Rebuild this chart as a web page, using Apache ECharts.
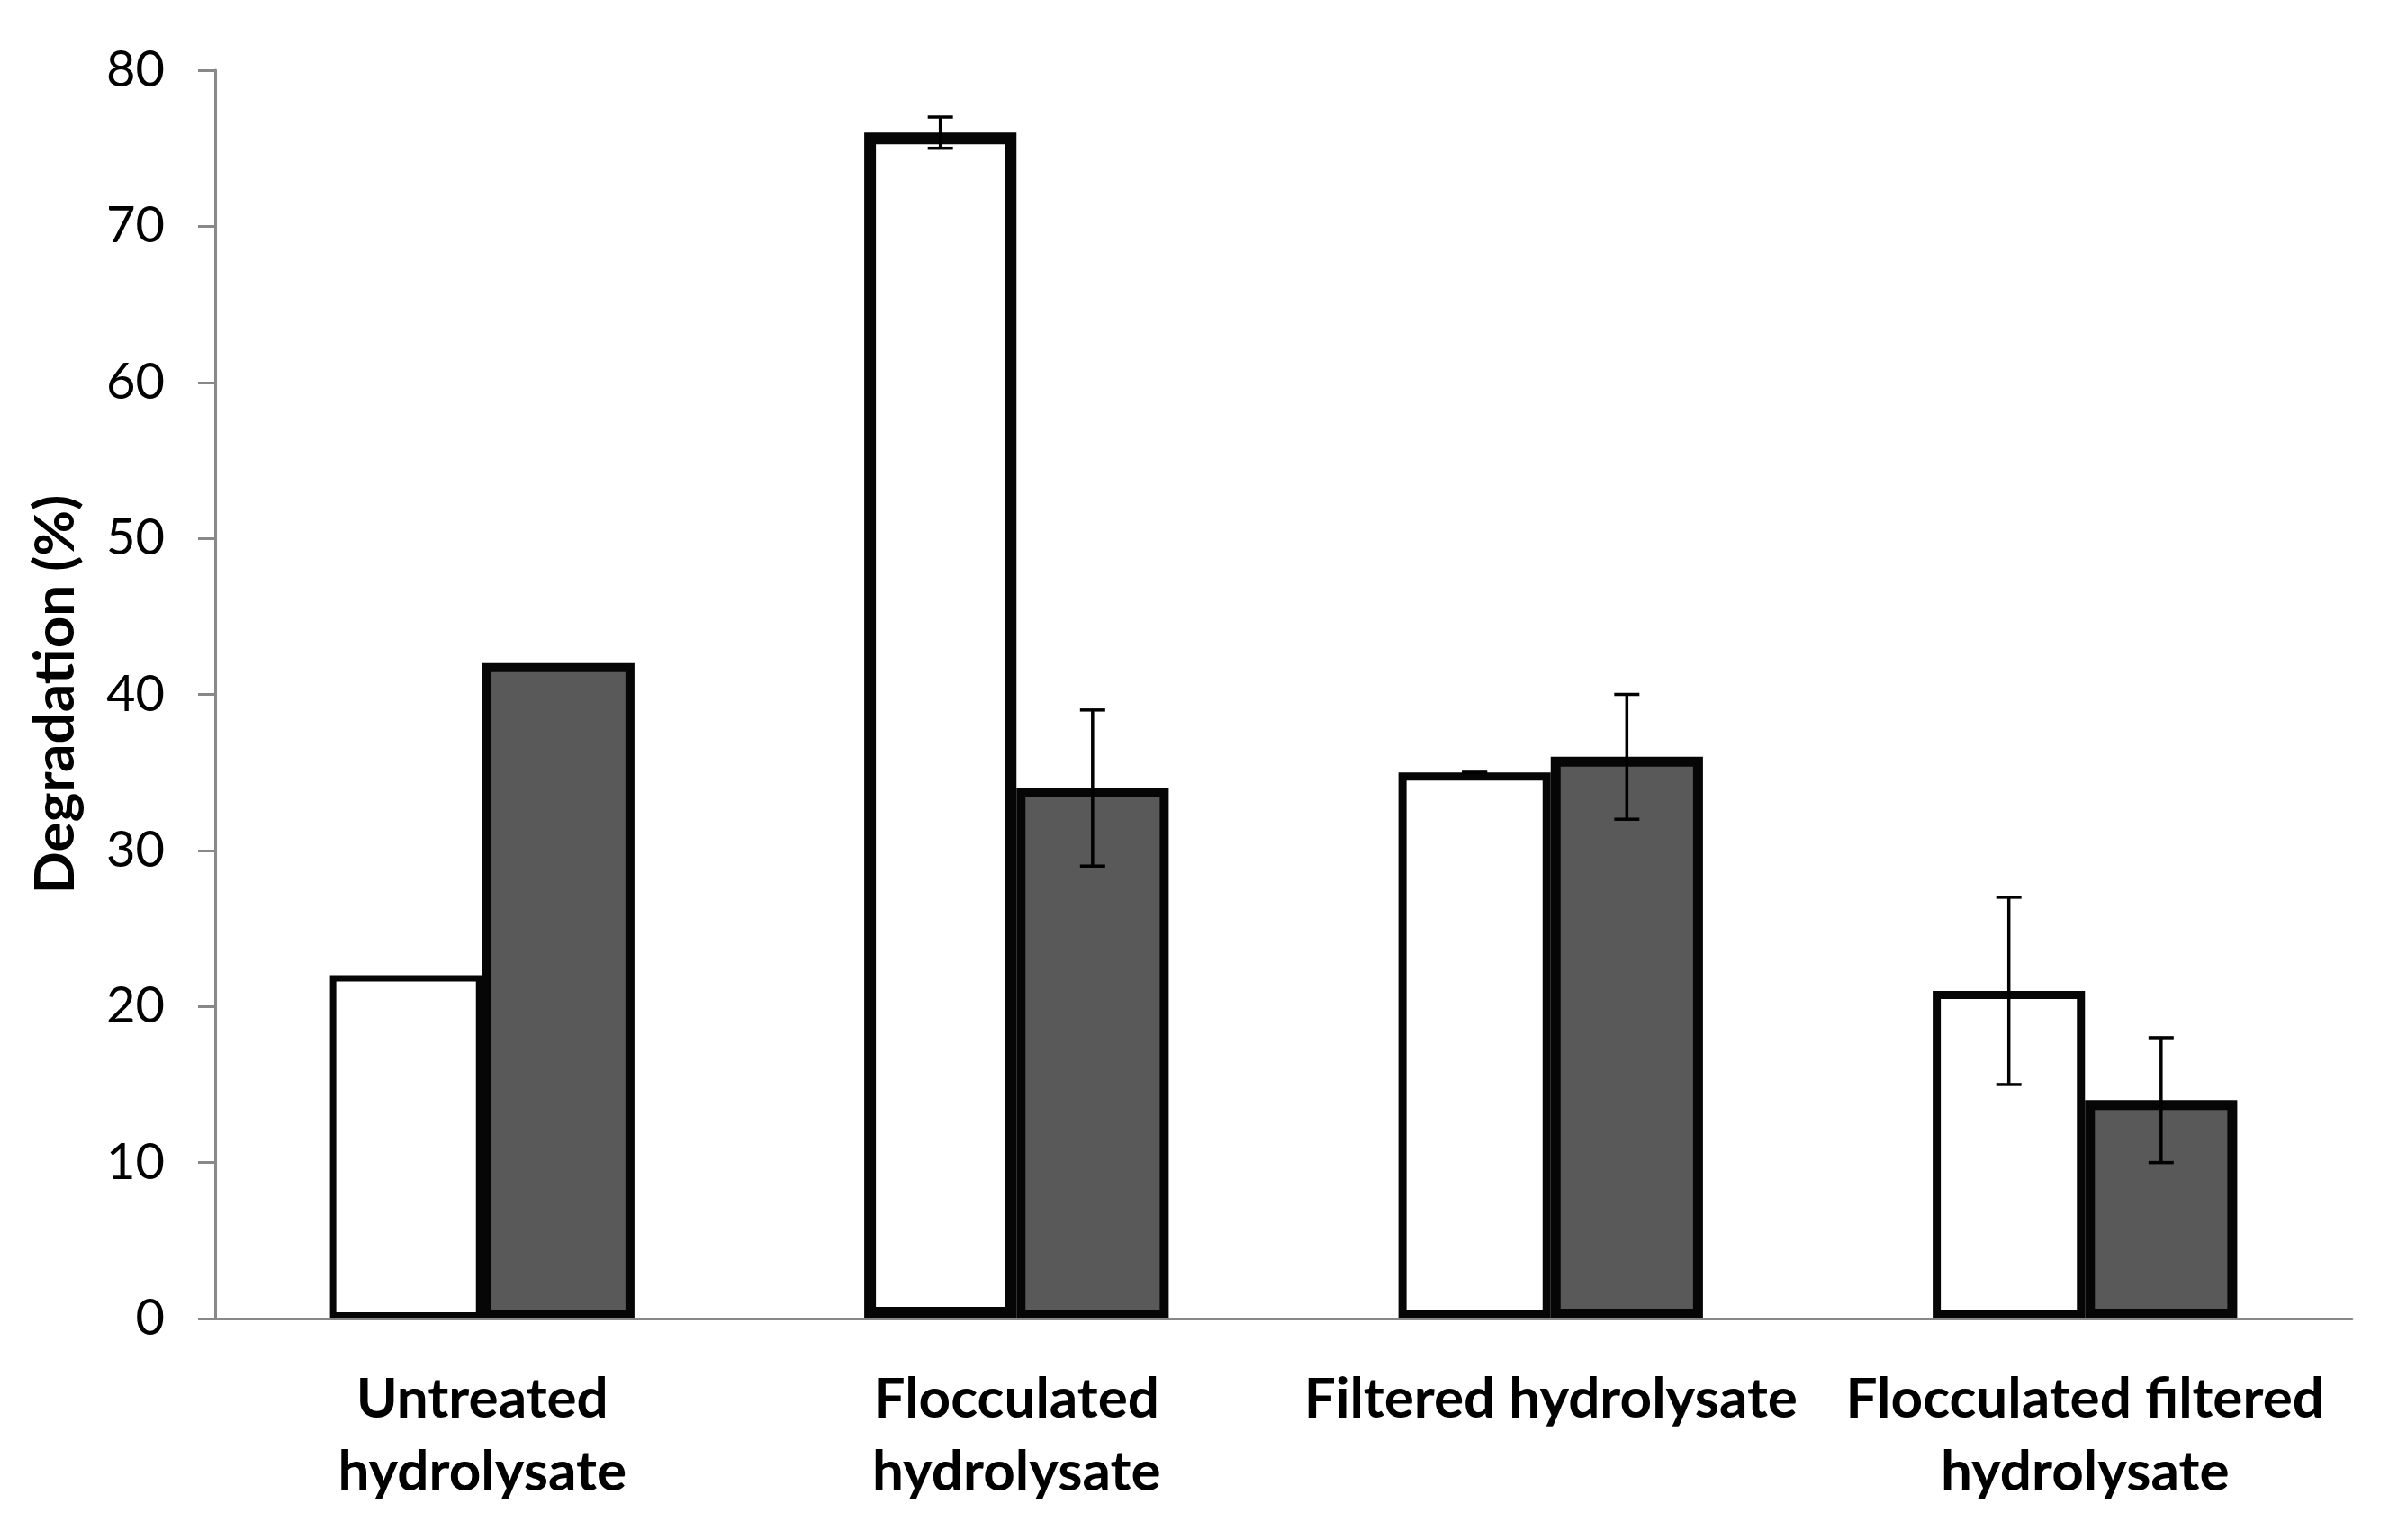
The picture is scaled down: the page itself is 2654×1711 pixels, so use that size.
<!DOCTYPE html>
<html>
<head>
<meta charset="utf-8">
<script src="https://cdn.jsdelivr.net/npm/echarts@6/dist/echarts.min.js"></script>
<style>
html,body{margin:0;padding:0;background:#fff;}
#chart{width:2654px;height:1711px;}
</style>
</head>
<body>
<div id="chart"></div>
<script>
// ---- data ----
const categories = ["Untreated\nhydrolysate", "Flocculated\nhydrolysate", "Filtered hydrolysate", "Flocculated filtered\nhydrolysate"];
const whiteValues = [22, 76, 35, 21];
const grayValues = [42, 34, 36, 14];
const whiteErrors = [null, 1, 0, 6];
const grayErrors = [null, 5, 4, 4];
const yTicks = [0, 10, 20, 30, 40, 50, 60, 70, 80];

// ---- styles ----
const whiteBorders = [7, 13, 9, 9];
const grayBorders = [10, 10, 11, 11];
const FONT = 'Lato';
const BAR_FRAC = 0.285;

const chart = echarts.init(document.getElementById('chart'));

function barData(vals, borders, fill) {
  return vals.map((v, i) => ({
    value: v,
    itemStyle: { color: fill, borderColor: '#060606', borderWidth: borders[i] }
  }));
}

function errData(vals, errs) {
  const out = [];
  vals.forEach((v, i) => {
    if (errs[i] !== null && errs[i] !== undefined) out.push([i, v - errs[i], v + errs[i]]);
  });
  return out;
}

function errRenderer(sign) {
  return function (params, api) {
    const idx = api.value(0);
    const lo = api.coord([idx, api.value(1)]);
    const hi = api.coord([idx, api.value(2)]);
    const band = api.size([1, 0])[0];
    const x = lo[0] + sign * band * BAR_FRAC / 2;
    const cap = 14;
    const st = { stroke: '#000', lineWidth: 3.5 };
    return {
      type: 'group',
      children: [
        { type: 'line', shape: { x1: x, y1: lo[1], x2: x, y2: hi[1] }, style: st },
        { type: 'line', shape: { x1: x - cap, y1: lo[1], x2: x + cap, y2: lo[1] }, style: st },
        { type: 'line', shape: { x1: x - cap, y1: hi[1], x2: x + cap, y2: hi[1] }, style: st }
      ]
    };
  };
}

chart.setOption({
  animation: false,
  backgroundColor: '#ffffff',
  grid: { left: 239, right: 41, top: 78, bottom: 246, containLabel: false },
  xAxis: {
    type: 'category',
    data: categories,
    z: 10,
    axisLine: { show: true, lineStyle: { color: '#888888', width: 3 } },
    axisTick: { show: false },
    axisLabel: {
      interval: 0,
      margin: 49,
      fontFamily: FONT,
      fontWeight: 'bold',
      fontSize: 62,
      lineHeight: 81,
      color: '#000'
    },
    splitLine: { show: false }
  },
  yAxis: {
    type: 'value',
    min: yTicks[0],
    max: yTicks[yTicks.length - 1],
    interval: yTicks[1] - yTicks[0],
    name: 'Degradation (%)',
    nameLocation: 'middle',
    nameGap: 146,
    nameRotate: 90,
    nameTextStyle: { fontFamily: FONT, fontWeight: 'bold', fontSize: 62, color: '#000' },
    axisLine: { show: true, lineStyle: { color: '#888888', width: 3 } },
    axisTick: { show: true, length: 19, lineStyle: { color: '#888888', width: 3 } },
    axisLabel: { margin: 56, fontFamily: FONT, fontSize: 56, color: '#000' },
    splitLine: { show: false }
  },
  series: [
    {
      type: 'bar',
      barWidth: (BAR_FRAC * 100) + '%',
      barGap: '0%',
      z: 2,
      data: barData(whiteValues, whiteBorders, '#ffffff')
    },
    {
      type: 'bar',
      barWidth: (BAR_FRAC * 100) + '%',
      barGap: '0%',
      z: 3,
      data: barData(grayValues, grayBorders, '#595959')
    },
    {
      type: 'custom',
      z: 5,
      renderItem: errRenderer(-1),
      encode: { x: 0, y: [1, 2] },
      data: errData(whiteValues, whiteErrors)
    },
    {
      type: 'custom',
      z: 5,
      renderItem: errRenderer(1),
      encode: { x: 0, y: [1, 2] },
      data: errData(grayValues, grayErrors)
    }
  ]
});
</script>
</body>
</html>
